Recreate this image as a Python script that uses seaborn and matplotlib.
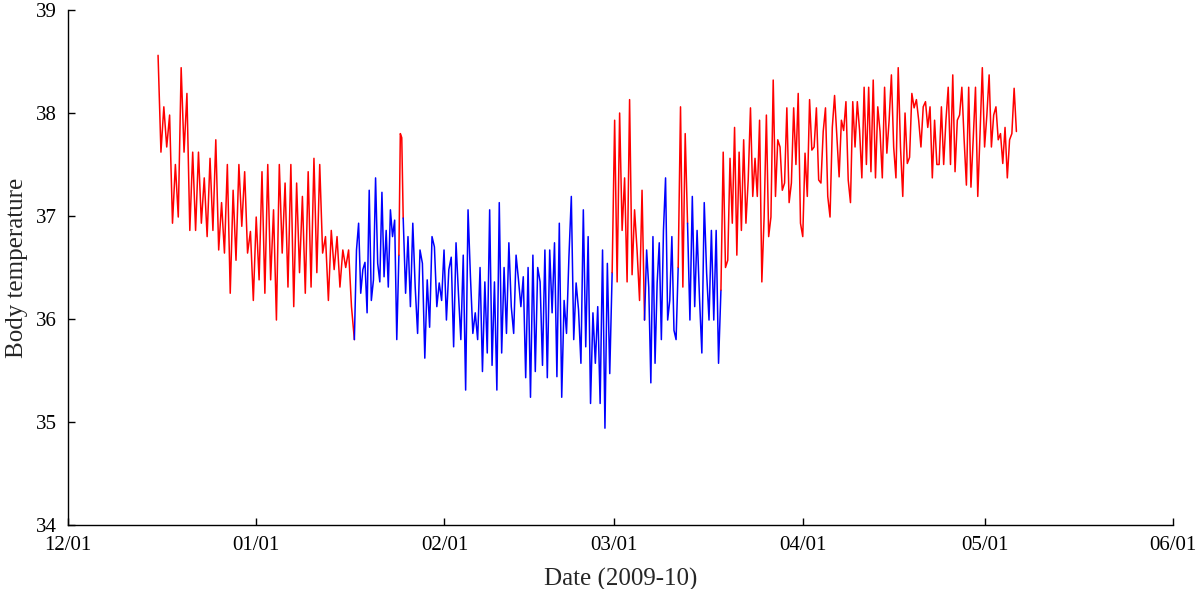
import numpy as np
import pandas as pd
import matplotlib
matplotlib.use("Agg")
import matplotlib.pyplot as plt
import matplotlib.dates as mdates
import seaborn as sns

# body temperature readings, one list per bout
bout_states = ["normo", "torpor", "normo", "torpor", "normo",
               "torpor", "normo", "torpor", "normo"]
bout_starts = ["2009-12-15 20:00", "2010-01-17 04:00", "2010-01-24 12:00",
               "2010-01-25 05:00", "2010-02-28 15:00", "2010-03-05 23:00",
               "2010-03-11 12:00", "2010-03-13 01:00", "2010-03-18 13:00"]
last_reading = "2010-05-06 05:00"

temps_1 = [38.56, 37.62, 38.06, 37.67, 37.98, 36.93, 37.50, 36.99, 38.44, 37.62,
           38.19, 36.86, 37.62, 36.86, 37.62, 36.93, 37.37, 36.80, 37.56, 36.86,
           37.74, 36.67, 37.13, 36.64, 37.50, 36.25, 37.25, 36.57, 37.50, 36.90,
           37.43, 36.64, 36.85, 36.18, 36.99, 36.38, 37.43, 36.25, 37.50, 36.38,
           37.06, 35.99, 37.50, 36.64, 37.32, 36.31, 37.50, 36.12, 37.32, 36.45,
           37.19, 36.25, 37.43, 36.31, 37.56, 36.45, 37.50, 36.64, 36.80, 36.18,
           36.86, 36.48, 36.80, 36.31, 36.67, 36.50, 36.67, 36.12]
temps_2 = [35.80, 36.67, 36.93, 36.25, 36.48, 36.55, 36.06, 37.25, 36.18, 36.38,
           37.37, 36.54, 36.36, 37.23, 36.41, 36.86, 36.31, 37.06, 36.80, 36.96,
           35.80]
temps_3 = [36.62, 37.80, 37.76]
temps_4 = [36.98, 36.25, 36.80, 36.12, 36.93, 36.31, 35.86, 36.67, 36.54, 35.62,
           36.38, 35.92, 36.80, 36.70, 36.12, 36.35, 36.18, 36.67, 35.99, 36.48,
           36.60, 35.73, 36.74, 36.25, 35.80, 36.62, 35.31, 37.06, 36.41, 35.86,
           36.06, 35.80, 36.50, 35.49, 36.36, 35.67, 37.06, 35.55, 36.36, 35.31,
           37.13, 35.67, 36.50, 35.86, 36.74, 36.12, 35.86, 36.62, 36.38, 36.12,
           36.41, 35.43, 36.50, 35.24, 36.62, 35.49, 36.50, 36.36, 35.55, 36.67,
           35.43, 36.67, 36.06, 36.74, 35.44, 36.93, 35.24, 36.18, 35.86, 36.60,
           37.19, 35.80, 36.35, 36.09, 35.57, 37.06, 35.73, 36.80, 35.18, 36.06,
           35.57, 36.12, 35.18, 36.67, 34.94, 36.54, 35.47]
temps_5 = [36.45, 37.93, 36.36, 38.00, 36.86, 37.37, 36.36, 38.13, 36.43, 37.06,
           36.67, 36.18, 37.25]
temps_6 = [35.99, 36.67, 36.31, 35.38, 36.80, 35.57, 36.35, 36.74, 35.80, 36.86,
           37.37, 35.99, 36.18, 36.80, 35.89, 35.80]
temps_7 = [36.50, 38.06, 36.31, 37.80]
temps_8 = [36.93, 35.99, 37.19, 36.12, 36.86, 36.21, 35.67, 37.13, 36.45, 35.99,
           36.86, 35.99, 36.86, 35.57]
temps_9 = [36.28, 37.62, 36.50, 36.57, 37.56, 36.93, 37.86, 36.62, 37.62, 36.86,
           37.74, 36.93, 37.35, 38.05, 37.19, 37.56, 37.19, 37.93, 36.36, 36.99,
           37.98, 36.80, 36.99, 38.32, 37.19, 37.74, 37.67, 37.25, 37.32, 38.05,
           37.13, 37.32, 38.05, 37.50, 38.19, 36.93, 36.80, 37.61, 37.19, 38.13,
           37.64, 37.67, 38.05, 37.35, 37.32, 37.82, 38.05, 37.19, 36.99, 37.86,
           38.17, 37.77, 37.38, 37.93, 37.83, 38.11, 37.35, 37.13, 38.11, 37.67,
           38.11, 37.83, 37.37, 38.25, 37.50, 38.25, 37.43, 38.32, 37.37, 38.06,
           37.82, 37.37, 38.25, 37.61, 37.93, 38.37, 37.67, 37.37, 38.44, 37.67,
           37.19, 38.00, 37.51, 37.57, 38.19, 38.05, 38.13, 37.93, 37.67, 38.06,
           38.11, 37.86, 38.06, 37.37, 37.93, 37.50, 37.50, 38.06, 37.50, 37.93,
           38.25, 37.50, 38.37, 37.43, 37.93, 37.98, 38.25, 37.74, 37.30, 38.25,
           37.28, 37.75, 38.25, 37.19, 37.80, 38.44, 37.67, 37.98, 38.37, 37.67,
           37.98, 38.06, 37.74, 37.80, 37.51, 37.86, 37.37, 37.74, 37.80, 38.24,
           37.82]

bout_temps = [temps_1, temps_2, temps_3, temps_4, temps_5,
              temps_6, temps_7, temps_8, temps_9]
state_colors = {"normo": "#ff0000", "torpor": "#0000ff"}


def build_frame():
    # spread each bout's readings evenly between its start and the next start
    starts = pd.to_datetime(bout_starts)
    ends = list(starts[1:]) + [pd.Timestamp(last_reading)]
    rows = []
    for b, (vals, t0, t1) in enumerate(zip(bout_temps, starts, ends)):
        last = b == len(bout_temps) - 1
        n = len(vals)
        step = (t1 - t0) / (n - 1 if last else n)
        for i, v in enumerate(vals):
            rows.append({"time": t0 + i * step, "temp": v, "bout": b,
                         "state": bout_states[b]})
    return pd.DataFrame(rows)


df = build_frame()

sns.set_style("ticks")
plt.rcParams["font.family"] = ["Liberation Serif", "DejaVu Serif"]

fig = plt.figure(figsize=(12, 5.89), dpi=100)
ax = fig.add_axes([68 / 1200, 1 - 525 / 589, (1173 - 68) / 1200, (525 - 10) / 589])

for b in range(len(bout_temps)):
    seg = df[df["bout"] == b]
    # join to the first reading of the next bout so the trace is continuous
    nxt = df[df["bout"] == b + 1].head(1)
    seg = pd.concat([seg, nxt])
    sns.lineplot(data=seg, x="time", y="temp", color=state_colors[bout_states[b]],
                 linewidth=1.1, estimator=None, sort=False, ax=ax)

ax.set_xlim(pd.Timestamp("2009-12-01"), pd.Timestamp("2010-06-01"))
ax.set_ylim(34, 39)
ax.set_yticks([34, 35, 36, 37, 38, 39])
ax.xaxis.set_major_locator(mdates.MonthLocator())
ax.xaxis.set_major_formatter(mdates.DateFormatter("%m/%d"))
ax.tick_params(direction="in", length=5, width=1, labelsize=15, colors="black")
ax.tick_params(axis="y", pad=8)
ax.tick_params(axis="x", pad=8)
ax.set_xlabel("Date (2009-10)", fontsize=18, labelpad=9)
ax.set_ylabel("Body temperature", fontsize=18, labelpad=6)
for side in ["top", "right"]:
    ax.spines[side].set_visible(False)
for side in ["left", "bottom"]:
    ax.spines[side].set_linewidth(1)
    ax.spines[side].set_color("black")

fig.savefig("out.png", dpi=100)
